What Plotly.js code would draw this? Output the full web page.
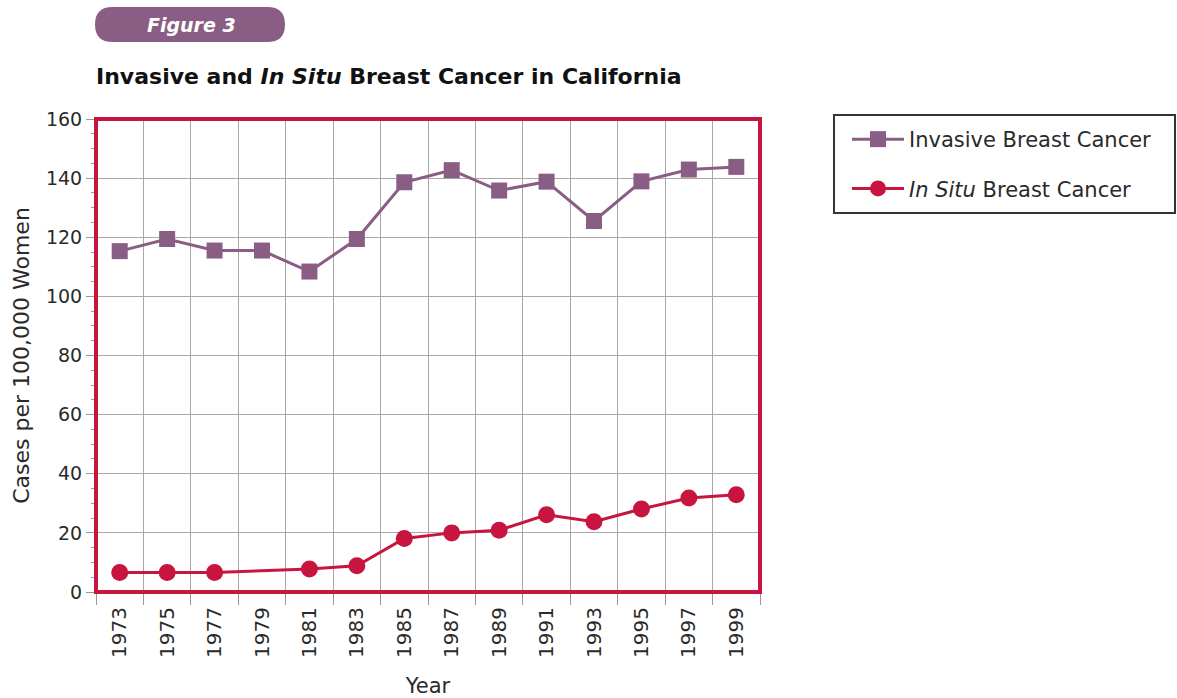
<!DOCTYPE html>
<html>
<head>
<meta charset="utf-8">
<script src="https://cdn.plot.ly/plotly-3.0.1.min.js"></script>
<style>html,body{margin:0;padding:0;background:#fff;}#chart{width:1177px;height:698px;}</style>
</head>
<body>
<div id="chart"></div>
<script>
// ---- data ----
const years = [1973, 1975, 1977, 1979, 1981, 1983, 1985, 1987, 1989, 1991, 1993, 1995, 1997, 1999];
const invasive = [115.3, 119.4, 115.5, 115.5, 108.4, 119.4, 138.6, 142.7, 135.8, 138.8, 125.5, 138.9, 142.9, 143.8];
const inSitu = [6.6, 6.6, 6.6, null, 7.8, 8.9, 18.1, 20.0, 20.9, 26.1, 23.8, 28.1, 31.8, 32.9];
const tickYears = years.map(String);
const gridYears = [1972, 1974, 1976, 1978, 1980, 1982, 1984, 1986, 1988, 1990, 1992, 1994, 1996, 1998, 2000];
const seriesNames = ['Invasive Breast Cancer', '<i>In Situ</i> Breast Cancer'];

// ---- layout helpers (pixel -> paper) ----
const L = 96, R = 760, T = 119, B = 592;
const px = x => (x - L) / (R - L);
const py = y => (B - y) / (B - T);

const FONT = 'DejaVu Sans, Verdana, sans-serif';
const PURPLE = '#8a5d85';
const CRIMSON = '#c8153f';
const TXT = '#2a2a2a';

const traces = [
  {
    x: years, y: invasive, name: seriesNames[0], type: 'scatter', mode: 'lines+markers',
    line: {color: PURPLE, width: 3},
    marker: {symbol: 'square', size: 16, color: PURPLE},
    legendgroup: 'a'
  },
  {
    x: years, y: inSitu, name: seriesNames[1], type: 'scatter', mode: 'lines+markers',
    connectgaps: true,
    line: {color: CRIMSON, width: 3},
    marker: {symbol: 'circle', size: 17, color: CRIMSON},
    legendgroup: 'b'
  }
];

const pill = (x0, y0, x1, y1) => {
  const r = (y1 - y0) / 2, ym = (y0 + y1) / 2;
  return `M ${px(x0 + r)} ${py(y0)} L ${px(x1 - r)} ${py(y0)} Q ${px(x1)} ${py(y0)} ${px(x1)} ${py(ym)} ` +
         `Q ${px(x1)} ${py(y1)} ${px(x1 - r)} ${py(y1)} L ${px(x0 + r)} ${py(y1)} ` +
         `Q ${px(x0)} ${py(y1)} ${px(x0)} ${py(ym)} Q ${px(x0)} ${py(y0)} ${px(x0 + r)} ${py(y0)} Z`;
};

const layout = {
  width: 1177, height: 698,
  margin: {l: L, r: 1177 - R, t: T, b: 698 - B, pad: 0},
  paper_bgcolor: '#fff', plot_bgcolor: '#fff',
  font: {family: FONT, size: 19, color: TXT},
  showlegend: true,
  title: {
    text: '<b>Invasive and <i>In Situ</i> Breast Cancer in California</b>',
    font: {family: FONT, size: 22, color: '#111'},
    xref: 'paper', x: 0, xanchor: 'left',
    yref: 'container', y: 1 - 76 / 698, yanchor: 'middle'
  },
  xaxis: {
    range: [1972, 2000], fixedrange: true,
    tickmode: 'array', tickvals: years, ticktext: tickYears,
    tickangle: -90, ticks: '', showgrid: false, zeroline: false, showline: false,
    ticklabelstandoff: 10,
    tickfont: {family: FONT, size: 20, color: TXT},
    minor: {tickmode: 'array', tickvals: gridYears, ticks: 'outside', ticklen: 12, tickcolor: '#999', tickwidth: 1,
            showgrid: true, gridcolor: '#a8a8a8', gridwidth: 1},
    title: {text: 'Year', font: {family: FONT, size: 21, color: TXT}, standoff: 24}
  },
  yaxis: {
    range: [0, 160], fixedrange: true,
    tickmode: 'linear', tick0: 0, dtick: 20,
    ticks: 'outside', ticklen: 9, tickcolor: '#999', tickwidth: 1,
    showgrid: true, gridcolor: '#a8a8a8', gridwidth: 1, zeroline: false, showline: false,
    tickfont: {family: FONT, size: 19, color: TXT},
    minor: {dtick: 5, ticks: 'outside', ticklen: 4, tickcolor: '#999', showgrid: false},
    title: {text: 'Cases per 100,000 Women', font: {family: FONT, size: 22, color: TXT}, standoff: 10}
  },
  legend: {
    x: px(847), y: py(119), xanchor: 'left', yanchor: 'top',
    bgcolor: 'rgba(0,0,0,0)', borderwidth: 0,
    font: {family: FONT, size: 21, color: TXT},
    traceorder: 'grouped', tracegroupgap: 19,
    itemwidth: 52
  },
  shapes: [
    {type: 'rect', xref: 'paper', yref: 'paper', x0: 0, x1: 1, y0: 0, y1: 1,
     line: {color: CRIMSON, width: 4}, fillcolor: 'rgba(0,0,0,0)', layer: 'above'},
    {type: 'rect', xref: 'paper', yref: 'paper', x0: px(834), x1: px(1175), y0: py(115), y1: py(213),
     line: {color: '#333', width: 2}, fillcolor: 'rgba(0,0,0,0)'},
    {type: 'path', xref: 'paper', yref: 'paper', path: pill(95, 7, 285, 42),
     fillcolor: PURPLE, line: {width: 0}}
  ],
  annotations: [
    {xref: 'paper', yref: 'paper', x: px(191), y: py(24.5), xanchor: 'center', yanchor: 'middle',
     text: '<b><i>Figure 3</i></b>', showarrow: false, font: {family: FONT, size: 19, color: '#fff'}}
  ]
};

Plotly.newPlot('chart', traces, layout, {displayModeBar: false, staticPlot: true});
</script>
</body>
</html>
